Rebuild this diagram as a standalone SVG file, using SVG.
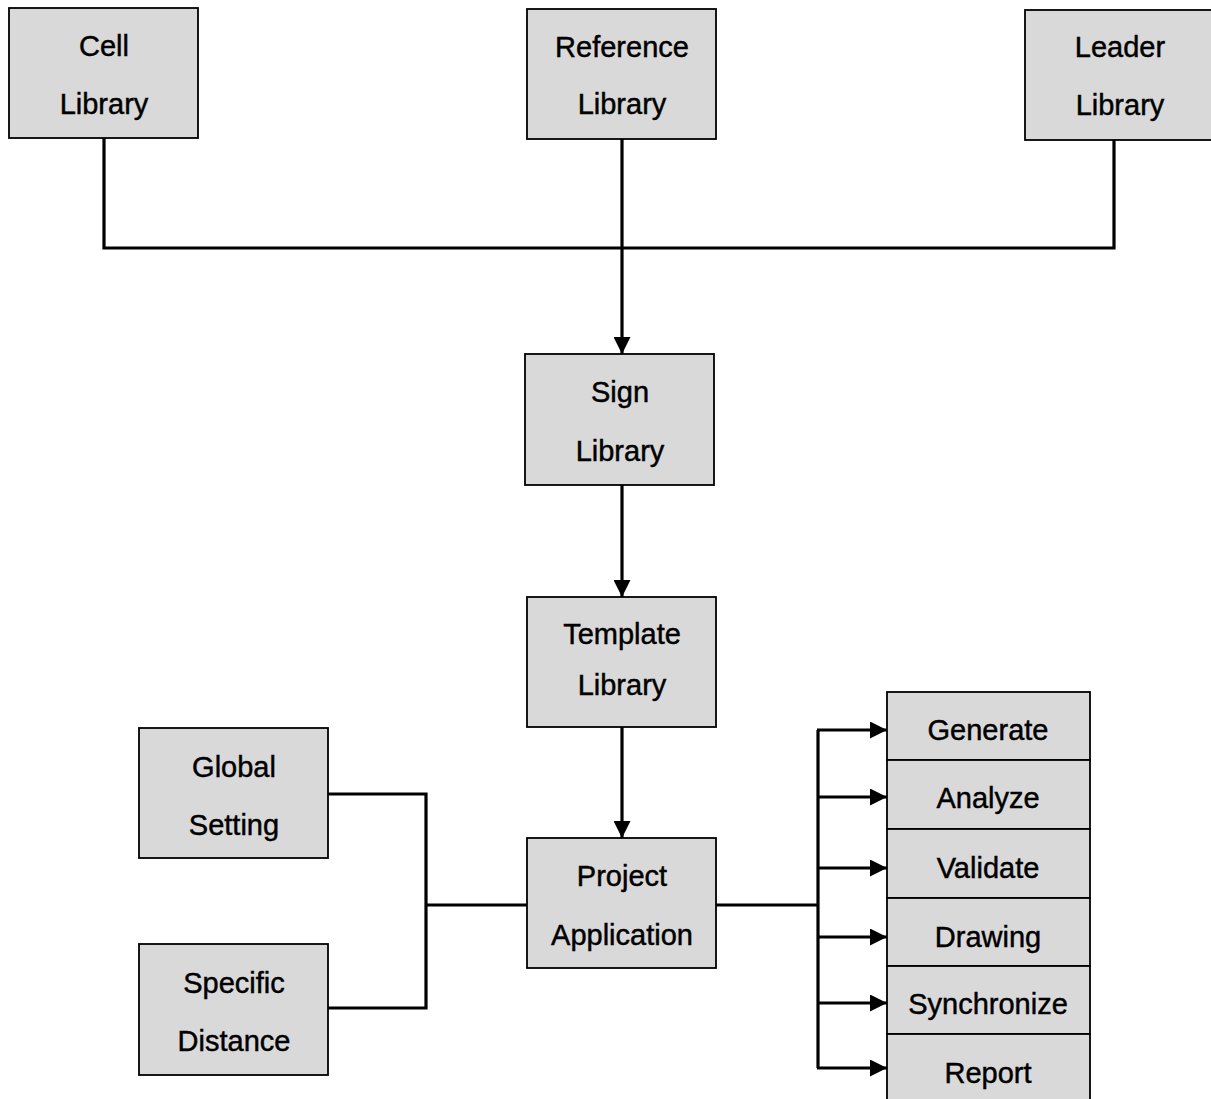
<svg xmlns="http://www.w3.org/2000/svg" width="1211" height="1099" viewBox="0 0 1211 1099">
<style>
.box{fill:#d9d9d9;stroke:#000;stroke-width:1.8}
.t{font-family:"Liberation Sans",Arial,sans-serif;font-size:29px;fill:#000;stroke:#000;stroke-width:0.45;text-anchor:middle}
.c{fill:none;stroke:#000;stroke-width:3.2}
.a{marker-end:url(#arr)}
</style>
<defs>
<marker id="arr" markerUnits="userSpaceOnUse" markerWidth="17" markerHeight="17" refX="17" refY="8.5" orient="auto">
<path d="M0,0 L17,8.5 L0,17 z" fill="#000"/>
</marker>
</defs>
<rect width="1211" height="1099" fill="#fff"/>
<g id="connectors">
<path class="c" d="M104,138 V248 H1114 V140"/>
<path class="c a" d="M622,139 V354"/>
<path class="c a" d="M622,485 V597"/>
<path class="c a" d="M622,727 V838"/>
<path class="c" d="M328,794 H426 V1008 H328"/>
<path class="c" d="M426,905 H527"/>
<path class="c" d="M716,905 H818"/>
<path class="c" d="M818,730 V1068"/>
<path class="c a" d="M817,730 H887"/>
<path class="c a" d="M817,797 H887"/>
<path class="c a" d="M817,868 H887"/>
<path class="c a" d="M817,937 H887"/>
<path class="c a" d="M817,1003 H887"/>
<path class="c a" d="M817,1068 H887"/>
</g>
<g id="cell-library"><rect class="box" x="9" y="8" width="189" height="130"/><text class="t" x="104" y="56">Cell</text><text class="t" x="104" y="114">Library</text></g>
<g id="reference-library"><rect class="box" x="527" y="9" width="189" height="130"/><text class="t" x="622" y="57">Reference</text><text class="t" x="622" y="114">Library</text></g>
<g id="leader-library"><rect class="box" x="1025" y="10" width="190" height="130"/><text class="t" x="1120" y="57">Leader</text><text class="t" x="1120" y="115">Library</text></g>
<g id="sign-library"><rect class="box" x="525" y="354" width="189" height="131"/><text class="t" x="620" y="402">Sign</text><text class="t" x="620" y="461">Library</text></g>
<g id="template-library"><rect class="box" x="527" y="597" width="189" height="130"/><text class="t" x="622" y="644">Template</text><text class="t" x="622" y="695">Library</text></g>
<g id="project-application"><rect class="box" x="527" y="838" width="189" height="130"/><text class="t" x="622" y="886">Project</text><text class="t" x="622" y="945">Application</text></g>
<g id="global-setting"><rect class="box" x="139" y="728" width="189" height="130"/><text class="t" x="234" y="777">Global</text><text class="t" x="234" y="835">Setting</text></g>
<g id="specific-distance"><rect class="box" x="139" y="944" width="189" height="131"/><text class="t" x="234" y="993">Specific</text><text class="t" x="234" y="1051">Distance</text></g>
<g id="generate"><rect class="box" x="887" y="692" width="203" height="68"/><text class="t" x="988" y="740">Generate</text></g>
<g id="analyze"><rect class="box" x="887" y="760" width="203" height="69"/><text class="t" x="988" y="808">Analyze</text></g>
<g id="validate"><rect class="box" x="887" y="829" width="203" height="69"/><text class="t" x="988" y="878">Validate</text></g>
<g id="drawing"><rect class="box" x="887" y="898" width="203" height="68"/><text class="t" x="988" y="947">Drawing</text></g>
<g id="synchronize"><rect class="box" x="887" y="966" width="203" height="68"/><text class="t" x="988" y="1014">Synchronize</text></g>
<g id="report"><rect class="box" x="887" y="1034" width="203" height="75"/><text class="t" x="988" y="1083">Report</text></g>
</svg>
